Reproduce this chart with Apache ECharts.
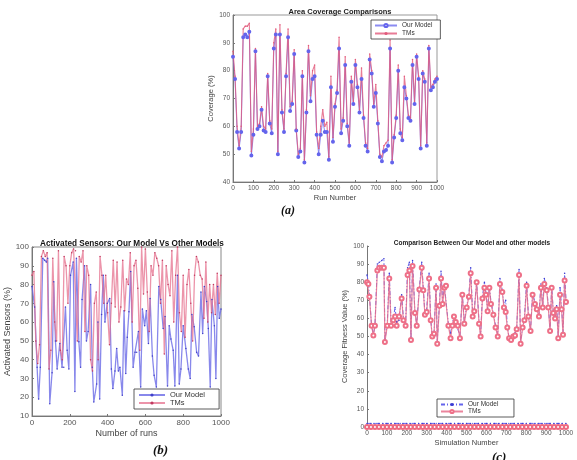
<!DOCTYPE html>
<html><head><meta charset="utf-8">
<script src="https://cdn.jsdelivr.net/npm/echarts@6.0.0/dist/echarts.min.js"></script>
<style>html,body{margin:0;padding:0;background:#fff}#c{width:577px;height:460px}</style>
</head><body><div id="c"></div>
<script>
// ---------- (a) Area Coverage Comparisons ----------
const runsA = [0,10,20,30,40,50,60,70,80,90,100,110,120,130,140,150,160,170,180,190,200,210,220,230,240,250,260,270,280,290,300,310,320,330,340,350,360,370,380,390,400,410,420,430,440,450,460,470,480,490,500,510,520,530,540,550,560,570,580,590,600,610,620,630,640,650,660,670,680,690,700,710,720,730,740,750,760,770,780,790,800,810,820,830,840,850,860,870,880,890,900,910,920,930,940,950,960,970,980,990,1000];
const ourA = [85,77,58,52,58,92,93,92,94,49.5,57,87,59,60,66,58.5,58,78,61,57.5,88,93,50,93,65,58,78,92,65.5,68,86,58.5,49,51,78,47,65,87,69,77,78,57,50,57,62,58,58,48,74,54.5,67,72,88,57.5,62,82,60,53,76,68,82,74,65,77,63,53,51,84,79,67,72,61,49,47.5,51,51.5,53,88,47,56,63,80,57.5,55,74,70,63,62,82,68,85,77,52,79,76,53,88,73,74,76,77];
const tmsA = [87,78,60,53,60,95,96,96,97,51,59,88,60,61,67,60,59,79,62,59,90,95,51,96.5,66,59,79,95,67,69,87.5,59,50,52,80,48,66,89,71,80,82,58,52,60,66,60,61.5,49,78,56,68,73,92,59,63,85,61,54,78,69,84,75,66,81,64,54,52,86,80,68,75,62,50,49,53,54,55,91,48,57,64,82,59,56,78,71,64,63,84,69,86,78,53,80,77,54,89,74,75,77,78];

// ---------- (b) Activated Sensors ----------
const runsBOur = [0,14,27,35,44,57,67,76,83,94,106,115,124,133,147,159,168,177,186,195,204,218,227,235,248,257,265,278,288,297,310,319,327,342,349,358,368,377,386,398,411,420,428,439,448,457,465,478,487,496,504,513,522,535,545,554,563,575,584,596,605,616,625,637,646,658,671,681,694,704,717,726,735,747,756,770,779,788,800,814,827,837,846,858,871,881,894,903,912,924,933,943,952,965,973,982,991,1000];
const ourB = [79,68,36,19,36,94,93,92,94,16.5,33,81.5,50,35,48.6,36,36,68,45,35,85,92,23,94,49.5,36,72,90,50,55,80,36,17.5,27,60,19,64,85,60,70,72.6,35,24.6,34,46,34,36,21,66,32.6,52,65.5,87,36,44,44,55,25.4,67,58,66,48.6,72.6,42,31.7,25.4,79,72,56.6,63,26,58,51,45,26,85,27,35,58,46,35,30,64,57.5,44,42,76,54,79,71,56.6,25.4,72,58,30,79,62,67];
const runsBTms = [0,10,20,30,40,50,60,70,80,90,100,110,120,130,140,150,160,170,180,190,200,210,220,230,240,250,260,270,280,290,300,310,320,330,340,350,360,370,380,390,400,410,420,430,440,450,460,470,480,490,500,510,520,530,540,550,560,570,580,590,600,610,620,630,640,650,660,670,680,690,700,710,720,730,740,750,760,770,780,790,800,810,820,830,840,850,860,870,880,890,900,910,920,930,940,950,960,970,980,990,1000];
const tmsB = [85,87,50,38,48,95,98,95,97,35,45,94,60,50,98,45,40,95,90,70,90,97,99,98,50,95,92,98,55,90,85,40,34,70,76,40,95,85,70,85,65,48,70,93,68,92,60,68,93,66,83,80,97,60,90,93,78,45,100,75,99,76,55,90,85,97,94,90,70,93,43,90,80,74,98,60,85,100,65,55,85,52,80,88,70,50,85,95,92,85,83,62,92,60,80,65,80,64,86,70,85];

// ---------- (c) Comparison Between Our Model and other models ----------
const runsC = [0,7,12,23,32,40,52,62,74,85,90,102,112,121,132,141,149,161,174,183,194,204,213,221,229,241,250,263,275,283,291,300,312,320,328,337,347,353,364,372,380,389,397,409,420,429,437,446,456,467,479,489,501,512,521,531,539,551,563,571,580,590,598,606,615,623,635,646,657,668,680,688,697,705,714,724,735,744,752,764,772,782,791,802,811,822,832,844,853,864,874,883,891,903,911,920,928,936,945,953,961,970,978,985,993,1000];
const tmsC = [80,79,72,56,50.6,56,86.5,88,88,88,47,56,82,56,59,61,56,61,71,59,56,84,86.5,48,89,63,56,76,88,75.5,62,63.5,82,59,50,51.5,77,46,67,82,68,77,78,56,49,56,61,58,56,49,73,57,66,72,85,61,64,80,57,50,71,77,73,64,77,68,62,55,50,79,74.6,66,63.5,55,49,48,50,50.6,54,84,46,55,59,78,61,53,73,68,65,61,77,66,79,75.5,66,53,77,63,60,65,49,73,65,51,81,69,71];
const ourC = [84,80,73,56,51,56,90,91,92,93,48,57,85,57,60,66,58,59,73,60,57,88,91,49,92,63,57,77,91,76,63,65,85,60,50,52,79,47,68,86,69,78,78,57,52,57,62,58,57,50,73,58,67,73,88,62,65,80,58,51,72,80,74,65,78,69,63,56,51,82,76,67,70,56,49,48,51,52,53,87,47,55,60,80,62,54,74,69,66,62,79,67,82,77,67,54,78,64,61,67,50,77,66,52,85,70,74];
const runsFlat = [0,20,40,60,80,100,120,140,160,180,200,220,240,260,280,300,320,340,360,380,400,420,440,460,480,500,520,540,560,580,600,620,640,660,680,700,720,740,760,780,800,820,840,860,880,900,920,940,960,980,1000];
const ourFlat = [2,2,2,2,2,2,2,2,2,2,2,2,2,2,2,2,2,2,2,2,2,2,2,2,2,2,2,2,2,2,2,2,2,2,2,2,2,2,2,2,2,2,2,2,2,2,2,2,2,2,2];
const tmsFlat = [0,0,0,0,0,0,0,0,0,0,0,0,0,0,0,0,0,0,0,0,0,0,0,0,0,0,0,0,0,0,0,0,0,0,0,0,0,0,0,0,0,0,0,0,0,0,0,0,0,0,0];

const zip = (xs, ys) => xs.map((x, i) => [x, ys[i]]);
const FONT = 'Liberation Sans';
const BLUE = '#6464ec';
const RED = '#e25a7c';
const plain = v => String(v);

function xAxis(gi, name, interval, fs, nameGap) {
  return {
    type: 'value', gridIndex: gi, min: 0, max: 1000, interval: interval,
    name: name, nameLocation: 'middle', nameGap: nameGap,
    nameTextStyle: {fontFamily: FONT, fontSize: fs + 1, color: '#444'},
    axisLine: {show: true, lineStyle: {color: '#777', width: 1}},
    axisTick: {show: true, inside: true, length: 2, lineStyle: {color: '#777'}},
    axisLabel: {fontFamily: FONT, fontSize: fs, color: '#555', margin: 3, formatter: plain},
    splitLine: {show: false}
  };
}
function yAxis(gi, name, min, max, fs, nameGap) {
  return {
    type: 'value', gridIndex: gi, min: min, max: max, interval: 10,
    name: name, nameLocation: 'middle', nameGap: nameGap, nameRotate: 90,
    nameTextStyle: {fontFamily: FONT, fontSize: fs + 1, color: '#444'},
    axisLine: {show: true, lineStyle: {color: '#777', width: 1}},
    axisTick: {show: true, inside: true, length: 2, lineStyle: {color: '#777'}},
    axisLabel: {fontFamily: FONT, fontSize: fs, color: '#555', margin: 3, formatter: plain},
    splitLine: {show: false}
  };
}

const option = {
  backgroundColor: '#fff',
  animation: false,
  title: [
    {text: 'Area Coverage Comparisons', left: 335, top: 3, textAlign: 'center',
     textStyle: {fontFamily: FONT, fontSize: 7.5, fontWeight: 'bold', color: '#222'}},
    {text: 'Activated Sensors: Our Model Vs Other Models', left: 127, top: 235, textAlign: 'center',
     textStyle: {fontFamily: FONT, fontSize: 8.2, fontWeight: 'bold', color: '#111'}},
    {text: 'Comparison Between Our Model and other models', left: 467, top: 235, textAlign: 'center',
     textStyle: {fontFamily: FONT, fontSize: 6.5, fontWeight: 'bold', color: '#222'}}
  ],
  graphic: [
    {type: 'text', left: 281, top: 205, style: {text: '(a)', font: 'italic bold 12px "Liberation Serif"', fill: '#111'}},
    {type: 'text', left: 153, top: 444, style: {text: '(b)', font: 'italic bold 13px "Liberation Serif"', fill: '#111'}},
    {type: 'text', left: 492, top: 451, style: {text: '(c)', font: 'italic bold 13px "Liberation Serif"', fill: '#111'}}
  ],
  grid: [
    {left: 233, top: 15, width: 204, height: 167, show: true, borderColor: '#999', borderWidth: 1, backgroundColor: '#fff'},
    {left: 32, top: 247, width: 189, height: 169, show: true, borderColor: '#888', borderWidth: 1, backgroundColor: '#fff'},
    {left: 367, top: 246, width: 199, height: 181, show: false}
  ],
  xAxis: [
    xAxis(0, 'Run Number', 100, 6.5, 12),
    xAxis(1, 'Number of runs', 200, 8, 13),
    xAxis(2, 'Simulation Number', 100, 6.5, 12)
  ],
  yAxis: [
    yAxis(0, 'Coverage (%)', 40, 100, 6.5, 14),
    yAxis(1, 'Activated Sensors (%)', 10, 100, 8, 18),
    yAxis(2, 'Coverage Fitness Value (%)', 0, 100, 6.5, 14)
  ],
  legend: [
    {data: ['Our Model', 'TMs'], orient: 'vertical', left: 371, top: 20, itemGap: 1, itemWidth: 22, itemHeight: 4,
     padding: [2, 8, 2, 3], borderColor: '#333', borderWidth: 0.8, backgroundColor: '#fff',
     textStyle: {fontFamily: FONT, fontSize: 6.5, color: '#333'}},
    {data: ['Our Model ', 'TMs '], orient: 'vertical', left: 134, top: 389, itemGap: 0, itemWidth: 26, itemHeight: 4,
     padding: [2, 12, 2, 4], borderColor: '#333', borderWidth: 0.8, backgroundColor: '#fff',
     textStyle: {fontFamily: FONT, fontSize: 7.5, color: '#333'}},
    {data: ['Our Model  ', 'TMs  '], orient: 'vertical', left: 437, top: 399, itemGap: 0, itemWidth: 22, itemHeight: 4,
     padding: [2, 12, 2, 3], borderColor: '#333', borderWidth: 0.8, backgroundColor: '#fff',
     textStyle: {fontFamily: FONT, fontSize: 6.5, color: '#333'}}
  ],
  series: [
    {name: 'Our Model', type: 'line', xAxisIndex: 0, yAxisIndex: 0, data: zip(runsA, ourA),
     symbol: 'emptyCircle', symbolSize: 2, itemStyle: {color: BLUE, borderWidth: 0.6}, lineStyle: {color: BLUE, width: 1, opacity: 0.75}},
    {name: 'TMs', type: 'line', xAxisIndex: 0, yAxisIndex: 0, data: zip(runsA, tmsA),
     symbol: 'circle', symbolSize: 1.5, itemStyle: {color: RED, borderWidth: 0}, lineStyle: {color: RED, width: 1.1, opacity: 0.8}},

    {name: 'Our Model ', type: 'line', xAxisIndex: 1, yAxisIndex: 1, data: zip(runsBOur, ourB),
     symbol: 'circle', symbolSize: 1.5, itemStyle: {color: '#4040c8', borderWidth: 0}, lineStyle: {color: '#6a6ae6', width: 1.3, opacity: 0.8}},
    {name: 'TMs ', type: 'line', xAxisIndex: 1, yAxisIndex: 1, data: zip(runsBTms, tmsB),
     symbol: 'circle', symbolSize: 1.5, itemStyle: {color: '#c03a60', borderWidth: 0}, lineStyle: {color: '#e6708e', width: 1.3, opacity: 0.75}},

    {name: 'Our Model  ', type: 'line', xAxisIndex: 2, yAxisIndex: 2, data: zip(runsC, ourC),
     symbol: 'circle', symbolSize: 1.5, itemStyle: {color: '#3a3ad0', borderWidth: 0}, lineStyle: {color: BLUE, width: 1, type: [4, 2, 1, 2]}},
    {name: 'TMs  ', type: 'line', xAxisIndex: 2, yAxisIndex: 2, data: zip(runsC, tmsC),
     symbol: 'emptyCircle', symbolSize: 4, itemStyle: {color: '#ee7088', borderWidth: 0.8}, lineStyle: {color: '#e8708c', width: 1.2, opacity: 0.85}},
    {name: 'Our Model  ', type: 'line', xAxisIndex: 2, yAxisIndex: 2, data: zip(runsFlat, ourFlat),
     symbol: 'circle', symbolSize: 1.5, itemStyle: {color: '#3a3ad0', borderWidth: 0}, lineStyle: {color: BLUE, width: 1, type: [4, 2, 1, 2]}},
    {name: 'TMs  ', type: 'line', xAxisIndex: 2, yAxisIndex: 2, data: zip(runsFlat, tmsFlat), clip: false,
     symbol: 'emptyCircle', symbolSize: 4, itemStyle: {color: '#ee6a80', borderWidth: 1}, lineStyle: {color: '#e8506c', width: 2}}
  ]
};
const chart = echarts.init(document.getElementById('c'), null, {renderer: 'canvas'});
chart.setOption(option);
</script>
</body></html>
